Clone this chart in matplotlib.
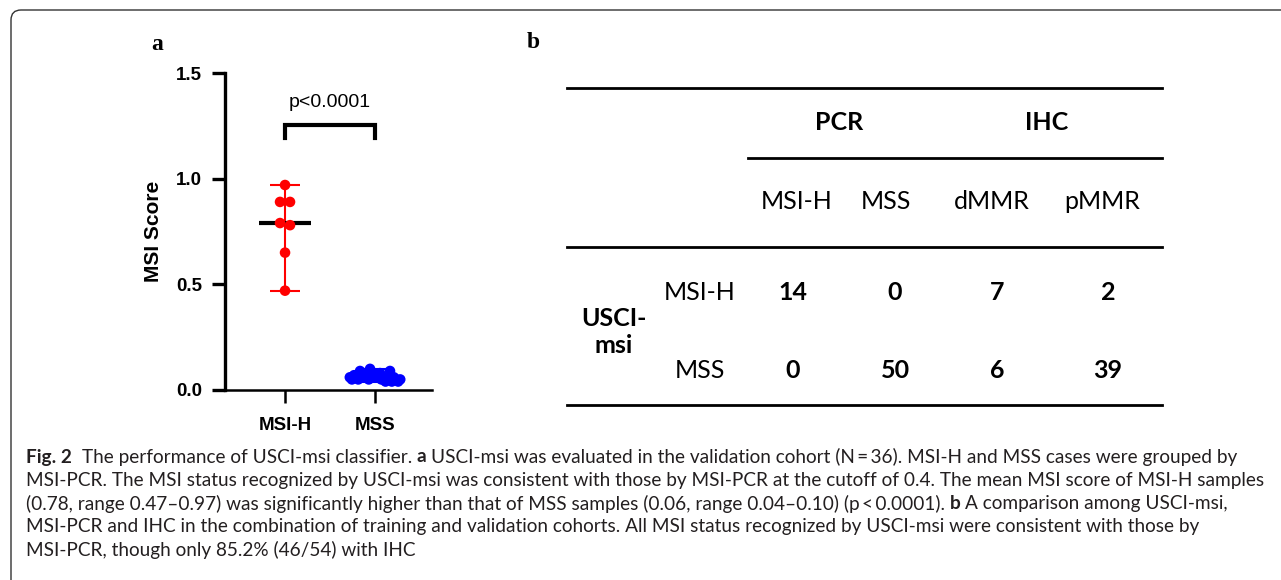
import matplotlib
matplotlib.use('Agg')
import matplotlib.pyplot as plt
import numpy as np
from matplotlib.patches import FancyBboxPatch
from matplotlib.transforms import IdentityTransform

# panel a: MSI scores in the validation cohort
groups = ['MSI-H', 'MSS']
msih_scores = [0.97, 0.89, 0.89, 0.79, 0.78, 0.65, 0.47]
mss_scores = [0.06, 0.05, 0.07, 0.06, 0.05, 0.07, 0.06, 0.06, 0.07, 0.05,
              0.06, 0.07, 0.06, 0.09, 0.10, 0.08, 0.09, 0.07, 0.06, 0.05,
              0.06, 0.04, 0.06, 0.05, 0.04, 0.06, 0.05, 0.04, 0.05]
p_label = 'p<0.0001'

# panel b: comparison table
group_headers = ['PCR', 'IHC']
col_headers = ['MSI-H', 'MSS', 'dMMR', 'pMMR']
row_headers = ['MSI-H', 'MSS']
row_group = 'USCI-\nmsi'
counts = [[14, 0, 7, 2],
          [0, 50, 6, 39]]

caption_lines = [
    [('Fig. 2', True), ('The performance of USCI-msi classifier.', False), ('a', True),
     ('USCI-msi was evaluated in the validation cohort (N\u2009=\u200936). MSI-H and MSS cases were grouped by', False)],
    [('MSI-PCR. The MSI status recognized by USCI-msi was consistent with those by MSI-PCR at the cutoff of 0.4. The mean MSI score of MSI-H samples', False)],
    [('(0.78, range 0.47\u20130.97) was significantly higher than that of MSS samples (0.06, range 0.04\u20130.10) (p\u2009<\u20090.0001).', False),
     ('b', True), ('A comparison among USCI-msi,', False)],
    [('MSI-PCR and IHC in the combination of training and validation cohorts. All MSI status recognized by USCI-msi were consistent with those by', False)],
    [('MSI-PCR, though only 85.2% (46/54) with IHC', False)],
]

W, H = 1281, 580
fig = plt.figure(figsize=(W / 100, H / 100), dpi=100)
fig.patch.set_facecolor('white')


def fx(px):
    return px / W


def fy(py):
    return 1 - py / H


def spread_offsets(values, bin_width, step, max_half):
    # GraphPad-like column scatter: points in the same value bin are spread sideways
    values = np.asarray(values)
    bins = np.round(values / bin_width).astype(int)
    offsets = np.zeros(len(values))
    for b in np.unique(bins):
        idx = np.where(bins == b)[0]
        n = len(idx)
        if n > 1:
            s = min(step, 2 * max_half / (n - 1))
            offsets[idx] = (np.arange(n) - (n - 1) / 2) * s
    return offsets


# rounded frame around the figure
frame = FancyBboxPatch((11, -40), W + 60, H - 10 + 40, boxstyle='round,pad=0,rounding_size=10',
                       transform=IdentityTransform(), fill=False, ec='#333333', lw=1.0)
fig.add_artist(frame)

# ---------------- panel a ----------------
plot_font = 'Liberation Sans'
ax = fig.add_axes([fx(225), fy(390), 207 / W, 317 / H])
colors = ['#ff0000', '#0000ff']
for i, (scores, c) in enumerate(zip([msih_scores, mss_scores], colors)):
    scores = np.asarray(scores)
    med = np.median(scores)
    ax.errorbar(i, med, yerr=[[med - scores.min()], [scores.max() - med]], fmt='none',
                ecolor=c, elinewidth=1.5, capsize=11, capthick=1.5, zorder=2)
    ax.plot([i - 0.29, i + 0.29], [med, med], color='black', lw=3, solid_capstyle='butt', zorder=3)
    offs = spread_offsets(scores, 0.05, 0.111, 0.28)
    ax.scatter(i + offs, scores, s=58, color=c, edgecolors='none', zorder=4)

# significance bracket
ax.plot([0, 0, 1, 1], [1.193, 1.255, 1.255, 1.193], color='black', lw=3, solid_joinstyle='miter')
ax.text(0.5, 1.36, p_label, ha='center', va='center', fontsize=14, family=plot_font)

ax.set_xlim(-0.667, 1.633)
ax.set_ylim(0, 1.5)
ax.spines['top'].set_visible(False)
ax.spines['right'].set_visible(False)
ax.spines['left'].set_linewidth(2.4)
ax.spines['bottom'].set_linewidth(1.8)
ax.set_yticks([0, 0.5, 1.0, 1.5])
ax.set_yticklabels(['%.1f' % v for v in [0, 0.5, 1.0, 1.5]], fontsize=13.5, fontweight='bold', family=plot_font)
ax.set_xticks(range(len(groups)))
ax.set_xticklabels(groups, fontsize=13.5, fontweight='bold', family=plot_font)
ax.tick_params(axis='y', length=9.4, width=2.4, pad=7)
ax.tick_params(axis='x', length=9.4, width=1.8, pad=10)
ax.set_ylabel('MSI Score', fontsize=15, fontweight='bold', family=plot_font)
ax.yaxis.set_label_coords((163 - 225) / 207, 0.5)

# panel letters
fig.text(fx(157), fy(44), 'a', ha='center', va='center', fontsize=17, fontweight='bold', family='Liberation Serif')
fig.text(fx(533), fy(43), 'b', ha='center', va='center', fontsize=17, fontweight='bold', family='Liberation Serif')

# ---------------- panel b (table) ----------------
tab_font = ['Lato', 'DejaVu Sans']
tab_size = 18
rule_lw = 2.0
for x0, x1, y in [(567, 1162, 88), (748, 1162, 158), (567, 1162, 247), (567, 1162, 405)]:
    fig.add_artist(plt.Line2D([fx(x0), fx(x1)], [fy(y), fy(y)], color='black', lw=rule_lw))

group_x = [839, 1047]
for gx, g in zip(group_x, group_headers):
    fig.text(fx(gx), fy(123), g, ha='center', va='center', fontsize=tab_size, fontweight='bold', family=tab_font)

header_x = [797, 886, 992, 1102]
for hx, h in zip(header_x, col_headers):
    fig.text(fx(hx), fy(202), h, ha='center', va='center', fontsize=tab_size, family=tab_font)

row_y = [293, 370]
value_x = [793, 895, 997, 1108]
for ry, rh, row in zip(row_y, row_headers, counts):
    fig.text(fx(700), fy(ry), rh, ha='center', va='center', fontsize=tab_size, family=tab_font)
    for vx, v in zip(value_x, row):
        fig.text(fx(vx), fy(ry), str(v), ha='center', va='center', fontsize=tab_size,
                 fontweight='bold', family=tab_font)
fig.text(fx(614), fy(332), row_group, ha='center', va='center', fontsize=tab_size, fontweight='bold',
         family=tab_font, multialignment='center', linespacing=1.25)

# ---------------- caption ----------------
cap_font = ['Lato', 'DejaVu Sans']
cap_size = 13.7
cap_color = '#231f20'
renderer = fig.canvas.get_renderer()


def text_width(s, bold):
    t = fig.text(0, 0, s, fontsize=cap_size, fontweight='bold' if bold else 'normal', family=cap_font)
    w = t.get_window_extent(renderer).width
    t.remove()
    return w


space_w = text_width('a a', False) - text_width('aa', False)
for k, segs in enumerate(caption_lines):
    x = 26
    y = 457 + 23.3 * k
    for j, (s, bold) in enumerate(segs):
        t = fig.text(fx(x), fy(y), s, ha='left', va='center', fontsize=cap_size, color=cap_color,
                     fontweight='bold' if bold else 'normal', family=cap_font)
        gap = 2 * space_w if (k == 0 and j == 0) else space_w
        x += t.get_window_extent(renderer).width + gap

fig.savefig('out.png', dpi=100, facecolor='white')
